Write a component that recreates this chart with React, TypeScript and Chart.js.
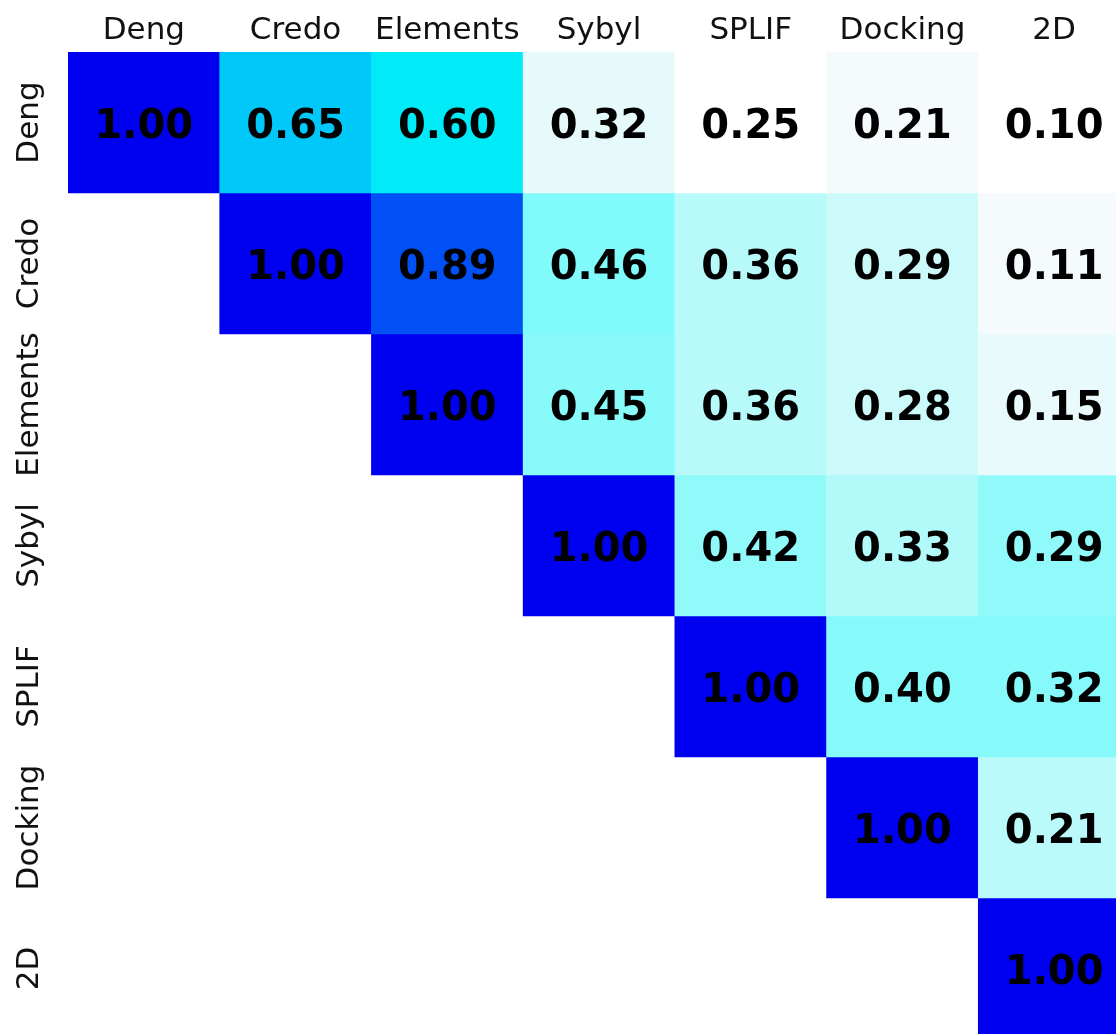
import React, { useEffect, useRef } from "react";
import { Chart, registerables } from "chart.js";

Chart.register(...registerables);

// ---- data ----
const methods = ["Deng", "Credo", "Elements", "Sybyl", "SPLIF", "Docking", "2D"];

const rowDeng = [1.0, 0.65, 0.6, 0.32, 0.25, 0.21, 0.1];
const rowCredo = [1.0, 0.89, 0.46, 0.36, 0.29, 0.11];
const rowElements = [1.0, 0.45, 0.36, 0.28, 0.15];
const rowSybyl = [1.0, 0.42, 0.33, 0.29];
const rowSPLIF = [1.0, 0.4, 0.32];
const rowDocking = [1.0, 0.21];
const row2D = [1.0];

const rows = [rowDeng, rowCredo, rowElements, rowSybyl, rowSPLIF, rowDocking, row2D];

// cell colours (upper triangle, per row, from diagonal)
const colorsDeng = ["#0000F0", "#00C8F8", "#00EAF8", "#E6FAFC", "#FFFFFF", "#F5FAFD", "#FFFFFF"];
const colorsCredo = ["#0000F0", "#0050F5", "#80FAFA", "#B8FAFA", "#CCFAFA", "#F5FAFD"];
const colorsElements = ["#0000F0", "#88FAFA", "#B8FAFA", "#CCFAFA", "#E8FAFC"];
const colorsSybyl = ["#0000F0", "#90FAFA", "#B2FAFA", "#90FAFA"];
const colorsSPLIF = ["#0000F0", "#86FAFA", "#86FAFA"];
const colorsDocking = ["#0000F0", "#BAFAFA"];
const colors2D = ["#0000F0"];

const rowColors = [colorsDeng, colorsCredo, colorsElements, colorsSybyl, colorsSPLIF, colorsDocking, colors2D];

const FONT = "'DejaVu Sans', Verdana, sans-serif";

export default function App() {
  const ref = useRef<HTMLCanvasElement | null>(null);

  useEffect(() => {
    if (!ref.current) return;
    const n = methods.length;

    const datasets = rows.map((vals, r) => {
      const data: any[] = [];
      const bg: string[] = [];
      for (let c = 0; c < n; c++) {
        if (c >= r) {
          data.push([r, r + 1]);
          bg.push(rowColors[r][c - r]);
        } else {
          data.push(null);
          bg.push("rgba(0,0,0,0)");
        }
      }
      return {
        label: methods[r],
        data,
        backgroundColor: bg,
        borderWidth: 0,
        categoryPercentage: 1,
        barPercentage: 1,
        grouped: false,
      } as any;
    });

    const labelPlugin = {
      id: "cellLabels",
      afterDatasetsDraw(chart: any) {
        const { ctx, scales } = chart;
        const xs = scales.x;
        const ys = scales.y;
        ctx.save();
        ctx.fillStyle = "#000";
        ctx.textAlign = "center";
        ctx.textBaseline = "middle";
        ctx.font = `bold 40px ${FONT}`;
        rows.forEach((vals, r) => {
          vals.forEach((v, k) => {
            const c = r + k;
            const x = xs.getPixelForValue(c);
            const y = ys.getPixelForValue(r + 0.5);
            ctx.fillText(v.toFixed(2), x, y + 5);
          });
        });
        // row labels (rotated)
        ctx.font = `31px ${FONT}`;
        ctx.fillStyle = "#111";
        methods.forEach((m, r) => {
          const y = ys.getPixelForValue(r + 0.5);
          ctx.save();
          ctx.translate(30, y);
          ctx.rotate(-Math.PI / 2);
          ctx.fillText(m, 0, 0);
          ctx.restore();
        });
        ctx.restore();
      },
    };

    const chart = new Chart(ref.current, {
      type: "bar",
      data: { labels: methods, datasets },
      options: {
        animation: false,
        responsive: false,
        maintainAspectRatio: false,
        layout: { padding: 0 },
        plugins: { legend: { display: false }, tooltip: { enabled: false } },
        scales: {
          x: {
            type: "category",
            position: "top",
            offset: true,
            grid: { display: false, drawTicks: false },
            border: { display: false },
            ticks: {
              color: "#111",
              font: { family: FONT, size: 31 },
              padding: 2,
              maxRotation: 0,
              minRotation: 0,
            },
            afterFit: (s: any) => {
              s.height = 52;
            },
          },
          y: {
            type: "linear",
            reverse: true,
            min: 0,
            max: n,
            grid: { display: false, drawTicks: false },
            border: { display: false },
            ticks: { display: false },
            afterFit: (s: any) => {
              s.width = 68;
            },
          },
        },
      },
      plugins: [labelPlugin],
    });

    return () => chart.destroy();
  }, []);

  return (
    <div
      style={{
        position: "fixed",
        left: 0,
        top: 0,
        width: 1116,
        height: 1034,
        overflow: "hidden",
        background: "#fff",
      }}
    >
      <canvas ref={ref} width={1130} height={1039} style={{ display: "block" }} />
    </div>
  );
}
